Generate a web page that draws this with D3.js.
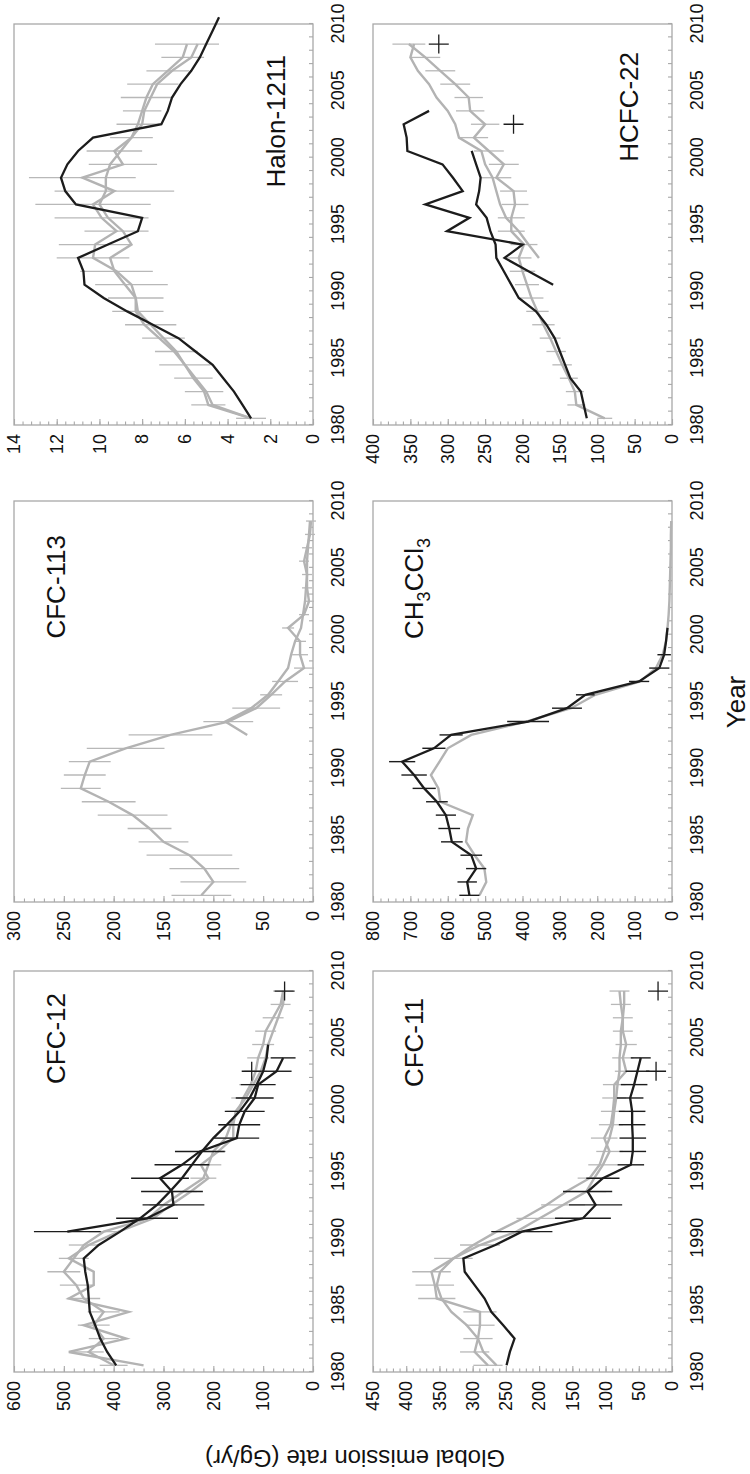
<!DOCTYPE html>
<html>
<head>
<meta charset="utf-8">
<script src="https://cdn.jsdelivr.net/npm/d3@7"></script>
<style>
  body { margin: 0; background: #fff; }
  svg { display: block; }
</style>
</head>
<body>
<div id="chart-area"></div>
<script>
// ---- data (years plotted at mid-year) ----
var yearTicks = [1980, 1985, 1990, 1995, 2000, 2005, 2010];

var cfc12Ticks = [0, 100, 200, 300, 400, 500, 600];
var cfc12GrayA = [400, 450, 420, 440, 420, 460, 475, 500, 480, 460, 420, 330, 300, 260, 220, 210, 200, 175, 165, 150, 140, 125, 115, 110, 100, 95, 80, 65, 60];
var cfc12GrayAErr = [28, 30, 30, 32, 32, 33, 33, 33, 30, 30, 30, 28, 28, 27, 26, 26, 25, 25, 25, 24, 24, 23, 23, 22, 22, 21, 21, 20, 20];
var cfc12GrayB = [340, 490, 375, 460, 370, 490, 440, 440, 490, 450, 390, 320, 285, 245, 210, 225, 190, 160, 160, 155, 135, 120, 105, 95, 90, 80, 70, 60, 58];
var cfc12BlackA = [395, 413, 427, 437, 448, 450, 452, 457, 460, 430, 387, 347, 313, 287, 263, 243, 223, 200, 173, 147, 127, 113, 100, 93, 90];
var cfc12BlackB = [493, 333, 280, 283, 307, 263, 227, 153, 148, 137, 117, 110, 73, 60];
var cfc12BlackBErr = [67, 62, 62, 62, 58, 55, 50, 45, 42, 40, 38, 35, 30, 25];
var cfc12Plus = [[2002, 123], [2008, 57]];

var cfc113Ticks = [0, 50, 100, 150, 200, 250, 300];
var cfc113GrayA = [112, 100, 109, 124, 150, 164, 181, 205, 233, 229, 224, 188, 143, 85, 57, 42, 28, 9, 13, 13, 25, 9, 4, 6, 6, 9, 6, 3, 2];
var cfc113GrayAErr = [30, 33, 35, 43, 25, 22, 35, 27, 20, 21, 21, 39, 42, 25, 24, 11, 13, 10, 8, 6, 6, 5, 5, 5, 5, 5, 5, 5, 5];
var cfc113GrayB = [66, 88, 62, 45, 35, 25, 22, 18, 12, 10, 8, 7, 6, 6, 5, 4, 3];

var halonTicks = [0, 2, 4, 6, 8, 10, 12, 14];
var halonGrayA = [2.9, 4.9, 5.1, 5.6, 6.0, 6.4, 7.0, 7.6, 8.2, 8.3, 8.5, 9.2, 10.3, 10.2, 9.2, 9.9, 10.3, 9.3, 10.8, 8.9, 9.3, 8.5, 8.2, 8.0, 7.8, 7.5, 6.8, 6.1, 5.9];
var halonGrayAErr = [0.7, 0.8, 0.9, 0.9, 1.2, 1.0, 1.0, 1.2, 1.2, 1.3, 1.7, 1.7, 1.7, 1.7, 1.5, 2.2, 2.7, 2.8, 2.5, 1.6, 1.3, 1.0, 1.0, 0.9, 1.2, 1.2, 1.0, 1.0, 1.5];
var halonGrayB = [2.9, 4.7, 5.0, 5.5, 6.0, 6.5, 7.2, 7.9, 8.3, 8.3, 8.8, 9.3, 9.5, 8.5, 8.9, 9.6, 10.0, 9.7, 9.7, 9.5, 9.0, 8.5, 8.0, 7.9, 7.6, 7.3, 6.6, 5.7, 5.4];
var halonBlack = [2.9, 3.3, 3.7, 4.2, 4.7, 5.5, 6.3, 7.5, 8.7, 9.8, 10.7, 10.75, 11.0, 9.6, 8.2, 8.0, 11.1, 11.6, 11.8, 11.5, 11.0, 10.3, 7.1, 6.8, 6.6, 6.2, 5.7, 5.3, 5.0, 4.7, 4.4];

var cfc11Ticks = [0, 50, 100, 150, 200, 250, 300, 350, 400, 450];
var cfc11GrayA = [277, 297, 292, 289, 289, 354, 357, 362, 329, 289, 234, 199, 164, 129, 117, 104, 94, 102, 92, 89, 87, 87, 69, 74, 69, 74, 74, 77, 79];
var cfc11GrayAErr = [22, 22, 22, 22, 25, 28, 29, 29, 29, 30, 35, 35, 33, 30, 25, 22, 20, 20, 18, 18, 18, 17, 17, 16, 16, 15, 15, 15, 15];
var cfc11GrayB = [264, 284, 292, 309, 332, 347, 354, 349, 329, 299, 264, 224, 189, 159, 124, 109, 102, 94, 89, 87, 84, 82, 79, 79, 77, 77, 74, 72, 72];
var cfc11Black = [249, 244, 237, 254, 272, 282, 297, 312, 314, 266, 226, 134, 115, 127, 104, 62, 59, 59, 60, 60, 63, 57, 52, 47];
var cfc11BlackErr = [null, null, null, null, null, null, null, null, null, null, 46, 42, 40, 37, 25, 20, 20, 20, 20, 20, 20, 20, 18, 15];
var cfc11Plus = [[2002, 24], [2008, 21]];

var ch3Ticks = [0, 100, 200, 300, 400, 500, 600, 700, 800];
var ch3Gray = [515, 497, 502, 528, 551, 546, 533, 620, 625, 645, 622, 600, 537, 390, 270, 205, 85, 43, 25, 16, 12, 9, 7, 6, 5, 4, 3, 3, 2];
var ch3Black = [542, 548, 524, 537, 589, 596, 605, 629, 663, 690, 722, 637, 591, 385, 281, 232, 88, 34, 21, 16, 12];
var ch3BlackErr = [27, 26, 27, 29, 29, 29, 27, 29, 31, 34, 35, 31, 31, 56, 40, 25, 27, 27, 18, null, null];

var hcfcTicks = [0, 50, 100, 150, 200, 250, 300, 350, 400];
var hcfcGrayA = [90, 128, 130, 138, 147, 155, 163, 172, 180, 188, 194, 200, 205, 198, 215, 215, 210, 212, 235, 225, 245, 265, 250, 270, 272, 290, 310, 330, 352];
var hcfcGrayAErr = [10, 12, 12, 12, 13, 13, 14, 15, 15, 16, 16, 17, 17, 18, 18, 18, 18, 18, 20, 20, 20, 19, 19, 19, 19, 20, 20, 20, 22];
var hcfcGrayB = [178, 192, 205, 222, 230, 235, 240, 250, 255, 285, 290, 300, 315, 325, 340, 350, 345];
var hcfcBlackA = [114, 118, 122, 136, 143, 150, 157, 168, 182, 205, 215, 225, 235, 236, 243, 248, 262, 258, 256, 262, 268];
var hcfcBlackB = [159, 192, 224, 200, 301, 271, 330, 280, 293, 307, 354, 355, 359, 325];
var hcfcPlus = [[2002, 212], [2008, 312]];

// ---- layout (original landscape figure, rotated onto the page) ----
var W = 750, H = 1474;
var colX = [102, 572, 1049], rowY = [14, 373];
var pw = 401, ph = 299;
var gray = "#b3b3b3", black = "#1c1c1c", frameColor = "#a8a8a8";
var font = "'Liberation Sans', Arial, Helvetica, sans-serif";

function ser(start, vals, errs) {
  return vals.map(function(v, i) {
    return { year: start + i, v: v, e: errs ? errs[i] : null };
  });
}

var panels = [
  { title: "CFC-12", col: 0, row: 0, ticks: cfc12Ticks, tdx: 22, ty: 51,
    gray: [ser(1980, cfc12GrayA, cfc12GrayAErr), ser(1980, cfc12GrayB)],
    black: [ser(1980, cfc12BlackA), ser(1990, cfc12BlackB, cfc12BlackBErr)], plus: cfc12Plus },
  { title: "CFC-113", col: 1, row: 0, ticks: cfc113Ticks, tdx: 34, ty: 51,
    gray: [ser(1980, cfc113GrayA, cfc113GrayAErr), ser(1992, cfc113GrayB)],
    black: [], plus: [] },
  { title: "Halon-1211", col: 2, row: 0, ticks: halonTicks, tdx: 31, ty: 271,
    gray: [ser(1980, halonGrayA, halonGrayAErr), ser(1980, halonGrayB)],
    black: [ser(1980, halonBlack)], plus: [] },
  { title: "CFC-11", col: 0, row: 1, ticks: cfc11Ticks, tdx: 27, ty: 50,
    gray: [ser(1980, cfc11GrayA, cfc11GrayAErr), ser(1980, cfc11GrayB)],
    black: [ser(1980, cfc11Black, cfc11BlackErr)], plus: cfc11Plus },
  { title: "CH3CCl3", col: 1, row: 1, ticks: ch3Ticks, tdx: 37, ty: 50,
    gray: [ser(1980, ch3Gray)],
    black: [ser(1980, ch3Black, ch3BlackErr)], plus: [] },
  { title: "HCFC-22", col: 2, row: 1, ticks: hcfcTicks, tdx: 28, ty: 265,
    gray: [ser(1980, hcfcGrayA, hcfcGrayAErr), ser(1992, hcfcGrayB)],
    black: [ser(1980, hcfcBlackA), ser(1990, hcfcBlackB)], plus: hcfcPlus }
];

var svg = d3.select("#chart-area").append("svg")
    .attr("width", W)
    .attr("height", H);

// whole figure is laid out landscape and turned 90 degrees
var fig = svg.append("g")
    .attr("transform", "translate(0," + H + ") rotate(-90)")
    .attr("font-family", font);

panels.forEach(function(p) {
  var x0 = colX[p.col], y0 = rowY[p.row];
  var yMax = p.ticks[p.ticks.length - 1];
  var step = p.ticks[1] - p.ticks[0];

  var x = d3.scaleLinear().domain([1980, 2010]).range([x0, x0 + pw]);
  var y = d3.scaleLinear().domain([0, yMax]).range([y0 + ph, y0]);

  var g = fig.append("g");

  // minor + major value ticks
  var ym = g.append("g").attr("transform", "translate(" + x0 + ",0)")
      .call(d3.axisLeft(y).tickValues(d3.range(0, yMax, step / 5)).tickSize(-3.5).tickFormat(""));
  ym.select(".domain").remove();
  ym.selectAll("line").attr("stroke", frameColor).attr("stroke-width", 1.1);

  var ya = g.append("g").attr("transform", "translate(" + x0 + ",0)")
      .call(d3.axisLeft(y).tickValues(p.ticks).tickSize(-6).tickPadding(9));
  ya.attr("font-size", 18).attr("font-family", font);
  ya.select(".domain").remove();
  ya.selectAll("line").attr("stroke", frameColor).attr("stroke-width", 1.1);
  ya.selectAll("text").attr("fill", "#111");

  var xm = g.append("g").attr("transform", "translate(0," + (y0 + ph) + ")")
      .call(d3.axisBottom(x).tickValues(d3.range(1980, 2011)).tickSize(-4).tickFormat(""));
  xm.select(".domain").remove();
  xm.selectAll("line").attr("stroke", frameColor).attr("stroke-width", 1.1);

  var xa = g.append("g").attr("transform", "translate(0," + (y0 + ph) + ")")
      .call(d3.axisBottom(x).tickValues(yearTicks).tickSize(0).tickPadding(18).tickFormat(d3.format("d")));
  xa.attr("font-size", 18).attr("font-family", font);
  xa.select(".domain").remove();
  xa.selectAll("text").attr("fill", "#111");

  g.append("rect")
      .attr("x", x0).attr("y", y0)
      .attr("width", pw).attr("height", ph)
      .attr("fill", "none")
      .attr("stroke", frameColor)
      .attr("stroke-width", 1.3);

  var line = d3.line()
      .x(function(d) { return x(d.year + 0.5); })
      .y(function(d) { return y(d.v); });

  function errBars(data, color, width) {
    g.append("g").selectAll("line")
        .data(data.filter(function(d) { return d.e != null; }))
        .enter().append("line")
        .attr("x1", function(d) { return x(d.year + 0.5); })
        .attr("x2", function(d) { return x(d.year + 0.5); })
        .attr("y1", function(d) { return y(d.v - d.e); })
        .attr("y2", function(d) { return y(d.v + d.e); })
        .attr("stroke", color)
        .attr("stroke-width", width);
  }

  p.gray.forEach(function(s) { errBars(s, "#b8b8b8", 1.3); });
  p.gray.forEach(function(s) {
    g.append("path").datum(s)
        .attr("d", line)
        .attr("fill", "none")
        .attr("stroke", gray)
        .attr("stroke-width", 2.4)
        .attr("stroke-linejoin", "miter");
  });
  p.black.forEach(function(s) { errBars(s, black, 1.4); });
  p.black.forEach(function(s) {
    g.append("path").datum(s)
        .attr("d", line)
        .attr("fill", "none")
        .attr("stroke", black)
        .attr("stroke-width", 2.3);
  });

  g.append("g").selectAll("path")
      .data(p.plus)
      .enter().append("path")
      .attr("d", function(d) {
        var cx = x(d[0] + 0.5), cy = y(d[1]);
        return "M" + (cx - 9.5) + "," + cy + "H" + (cx + 9.5) + "M" + cx + "," + (cy - 10) + "V" + (cy + 10);
      })
      .attr("stroke", black)
      .attr("stroke-width", 1.3)
      .attr("fill", "none");

  // panel title
  var t = g.append("text")
      .attr("x", x0 + pw - p.tdx)
      .attr("y", y0 + p.ty)
      .attr("text-anchor", "end")
      .attr("font-size", 26)
      .attr("fill", "#111");
  if (p.title === "CH3CCl3") {
    t.append("tspan").text("CH");
    t.append("tspan").attr("font-size", 18).attr("dy", 7).text("3");
    t.append("tspan").attr("dy", -7).text("CCl");
    t.append("tspan").attr("font-size", 18).attr("dy", 7).text("3");
  } else {
    t.text(p.title);
  }
});

fig.append("text")
    .attr("x", 772)
    .attr("y", 745)
    .attr("text-anchor", "middle")
    .attr("font-size", 26)
    .attr("fill", "#111")
    .text("Year");

fig.append("text")
    .attr("transform", "translate(24,355) rotate(-90)")
    .attr("text-anchor", "middle")
    .attr("font-size", 24)
    .attr("fill", "#111")
    .text("Global emission rate (Gg/yr)");
</script>
</body>
</html>
